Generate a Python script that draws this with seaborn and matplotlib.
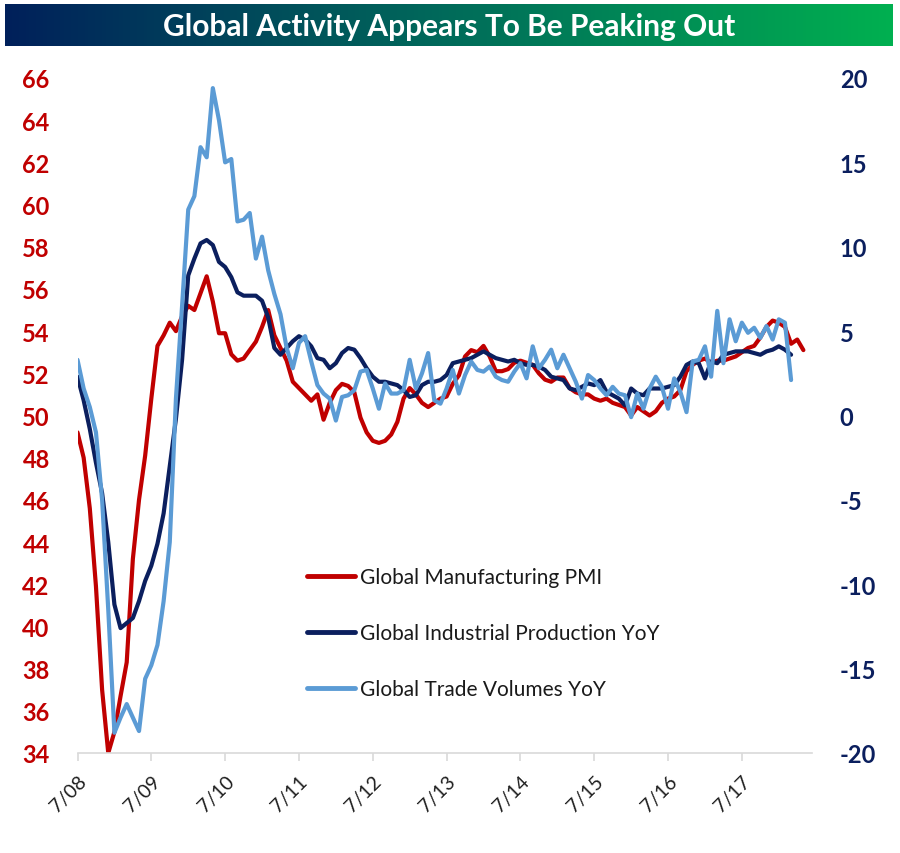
import numpy as np
import pandas as pd
import matplotlib
matplotlib.use("Agg")
import matplotlib.pyplot as plt
import seaborn as sns
from matplotlib.colors import LinearSegmentedColormap

# ---------------- data ----------------
title = "Global Activity Appears To Be Peaking Out"
x_tick_labels = ["7/08", "7/09", "7/10", "7/11", "7/12", "7/13", "7/14", "7/15", "7/16", "7/17"]
series_names = ["Global Manufacturing PMI", "Global Industrial Production YoY", "Global Trade Volumes YoY"]

# monthly, starting Jul 2008 (left axis)
pmi = [49.2, 48.0, 45.6, 41.9, 37.0, 34.0, 35.0, 36.7, 38.3, 43.2,
       46.0, 48.1, 50.8, 53.3, 53.8, 54.4, 54.0, 54.7, 55.2, 55.0,
       55.8, 56.6, 55.4, 53.9, 53.9, 52.9, 52.6, 52.7, 53.1, 53.5,
       54.2, 55.0, 53.8, 53.2, 52.6, 51.6, 51.3, 51.0, 50.7, 51.0,
       49.8, 50.6, 51.2, 51.5, 51.4, 51.1, 49.9, 49.2, 48.8, 48.7,
       48.8, 49.1, 49.7, 50.8, 51.3, 51.0, 50.6, 50.4, 50.6, 50.8,
       50.9, 51.5, 51.9, 52.8, 53.1, 53.0, 53.3, 52.8, 52.1, 52.1,
       52.2, 52.5, 52.6, 52.5, 52.4, 52.0, 51.7, 51.6, 51.8, 51.8,
       51.3, 51.1, 51.0, 51.0, 50.8, 50.7, 50.8, 50.6, 50.5, 50.4,
       50.0, 50.4, 50.2, 50.0, 50.2, 50.6, 50.8, 50.9, 51.2, 52.1,
       52.4, 52.6, 52.7, 52.5, 52.6, 52.6, 52.7, 52.8, 53.0, 53.2,
       53.3, 53.7, 54.2, 54.5, 54.4, 54.2, 53.4, 53.6, 53.1]

# right axis, % YoY
ip_yoy = [2.3, 0.9, -0.8, -2.8, -4.6, -7.5, -11.2, -12.6, -12.3, -12.0,
          -11.0, -9.8, -8.9, -7.6, -5.8, -3.0, -0.2, 3.3, 8.3, 9.3,
          10.2, 10.4, 10.1, 9.1, 8.8, 8.2, 7.3, 7.1, 7.1, 7.1,
          6.8, 5.8, 4.0, 3.6, 4.0, 4.4, 4.7, 4.5, 4.1, 3.4,
          3.3, 2.8, 3.1, 3.7, 4.0, 3.9, 3.4, 2.8, 2.3, 2.0,
          2.0, 1.9, 1.8, 1.5, 1.1, 1.2, 1.8, 2.0, 2.0, 2.1,
          2.4, 3.1, 3.2, 3.3, 3.4, 3.6, 3.8, 3.6, 3.4, 3.3,
          3.2, 3.3, 3.1, 3.0, 3.0, 2.9, 2.7, 2.3, 2.2, 2.1,
          1.6, 1.5, 1.7, 1.9, 1.8, 2.1, 1.4, 1.2, 1.0, 0.6,
          1.6, 1.3, 1.2, 1.6, 1.6, 1.6, 1.7, 1.8, 2.3, 3.0,
          3.2, 3.1, 2.2, 3.2, 3.1, 3.6, 3.7, 3.8, 3.8, 3.8,
          3.7, 3.6, 3.8, 3.9, 4.1, 3.9, 3.6]

trade_yoy = [3.3, 1.6, 0.5, -1.0, -5.0, -11.5, -18.8, -17.9, -17.1, -17.9,
             -18.7, -15.6, -14.8, -13.6, -11.0, -7.5, 1.0, 6.5, 12.2, 13.0,
             15.9, 15.3, 19.4, 17.5, 15.0, 15.2, 11.5, 11.6, 12.0, 9.3,
             10.6, 8.6, 7.2, 6.0, 4.0, 2.8, 4.3, 4.7, 3.2, 1.8,
             1.3, 1.0, -0.3, 1.1, 1.2, 1.5, 2.6, 2.7, 1.6, 0.4,
             1.9, 1.3, 1.3, 1.5, 3.3, 1.6, 2.5, 3.7, 0.9, 0.7,
             1.6, 2.7, 1.3, 2.4, 3.2, 2.7, 2.6, 2.9, 2.3, 2.1,
             2.0, 2.6, 3.1, 2.2, 4.1, 2.8, 3.3, 3.9, 2.8, 3.6,
             2.8, 2.0, 1.0, 2.4, 2.1, 1.6, 1.2, 1.7, 1.3, 1.2,
             -0.1, 1.3, 0.4, 1.6, 2.3, 1.7, 0.4, 2.2, 1.4, 0.2,
             3.2, 3.3, 4.1, 2.3, 6.2, 3.1, 5.7, 4.4, 5.5, 4.9,
             5.2, 4.6, 5.3, 4.5, 5.7, 5.5, 2.1]

colors = ["#C00000", "#0B1F5E", "#5B9BD5"]

# ---------------- figure ----------------
sns.set_theme(style="white")
plt.rcParams["font.family"] = ["Lato", "DejaVu Sans"]
plt.rcParams["axes.unicode_minus"] = False

W, H = 900, 854
fig = plt.figure(figsize=(W / 100, H / 100), dpi=100)

# title banner with gradient
bax = fig.add_axes([5 / W, 1 - 47 / H, 888 / W, 42 / H])
grad = np.linspace(0, 1, 256).reshape(1, -1)
cmap = LinearSegmentedColormap.from_list("banner", ["#00205B", "#006B5A", "#00B050"])
bax.imshow(grad, aspect="auto", cmap=cmap, extent=[0, 1, 0, 1])
bax.set_axis_off()
bax.text(0.5, 0.48, title, color="white", fontsize=21.5, fontweight="bold",
         ha="center", va="center", transform=bax.transAxes)

x0, x1 = 77.5, 812
y0, y1 = 79, 754
ax = fig.add_axes([x0 / W, 1 - y1 / H, (x1 - x0) / W, (y1 - y0) / H])
ax2 = ax.twinx()

df_pmi = pd.DataFrame({"month": np.arange(len(pmi)), "value": pmi})
df_ip = pd.DataFrame({"month": np.arange(len(ip_yoy)), "value": ip_yoy})
df_tr = pd.DataFrame({"month": np.arange(len(trade_yoy)), "value": trade_yoy})

sns.lineplot(data=df_pmi, x="month", y="value", ax=ax, color=colors[0], lw=3.0,
             label=series_names[0], legend=False)
sns.lineplot(data=df_ip, x="month", y="value", ax=ax2, color=colors[1], lw=3.0,
             label=series_names[1], legend=False)
sns.lineplot(data=df_tr, x="month", y="value", ax=ax2, color=colors[2], lw=3.0,
             label=series_names[2], legend=False)

ax.set_xlim(0, 119.4)
ax.set_ylim(34, 66)
ax2.set_ylim(-20, 20)
ax.set_yticks(np.arange(34, 67, 2))
ax2.set_yticks(np.arange(-20, 21, 5))
ax.set_xticks(np.arange(0, 12 * len(x_tick_labels), 12))
ax.set_xticklabels(x_tick_labels, rotation=45, ha="right", rotation_mode="anchor",
                   fontsize=14, color="#1f1f1f")
ax.set_xlabel("")
ax.set_ylabel("")
ax2.set_ylabel("")

for a in (ax, ax2):
    for s in ("top", "left", "right", "bottom"):
        a.spines[s].set_visible(False)
    a.grid(False)
ax.spines["bottom"].set_visible(True)
ax.spines["bottom"].set_color("#D9D9D9")
ax.spines["bottom"].set_linewidth(1.2)

ax.tick_params(axis="x", which="both", bottom=True, length=6, width=1.2, color="#D9D9D9",
               direction="out", pad=8)
ax.tick_params(axis="y", length=0, pad=20, labelsize=17, labelcolor=colors[0])
ax2.tick_params(axis="y", length=0, pad=20, labelsize=17, labelcolor="#0B1F5E")
for lab in ax.get_yticklabels():
    lab.set_fontweight("bold")
for lab in ax2.get_yticklabels():
    lab.set_fontweight("bold")

h1, l1 = ax.get_legend_handles_labels()
h2, l2 = ax2.get_legend_handles_labels()
leg = fig.legend(h1 + h2, l1 + l2, loc="upper left",
                 bbox_to_anchor=(307 / W, 1 - 568 / H), frameon=False, fontsize=15,
                 handlelength=2.3, handletextpad=0.25, labelspacing=1.73,
                 borderpad=0, borderaxespad=0)
for t in leg.get_texts():
    t.set_color("#1a1a1a")
for line in leg.get_lines():
    line.set_linewidth(3.5)

fig.savefig("out.png", dpi=100)
